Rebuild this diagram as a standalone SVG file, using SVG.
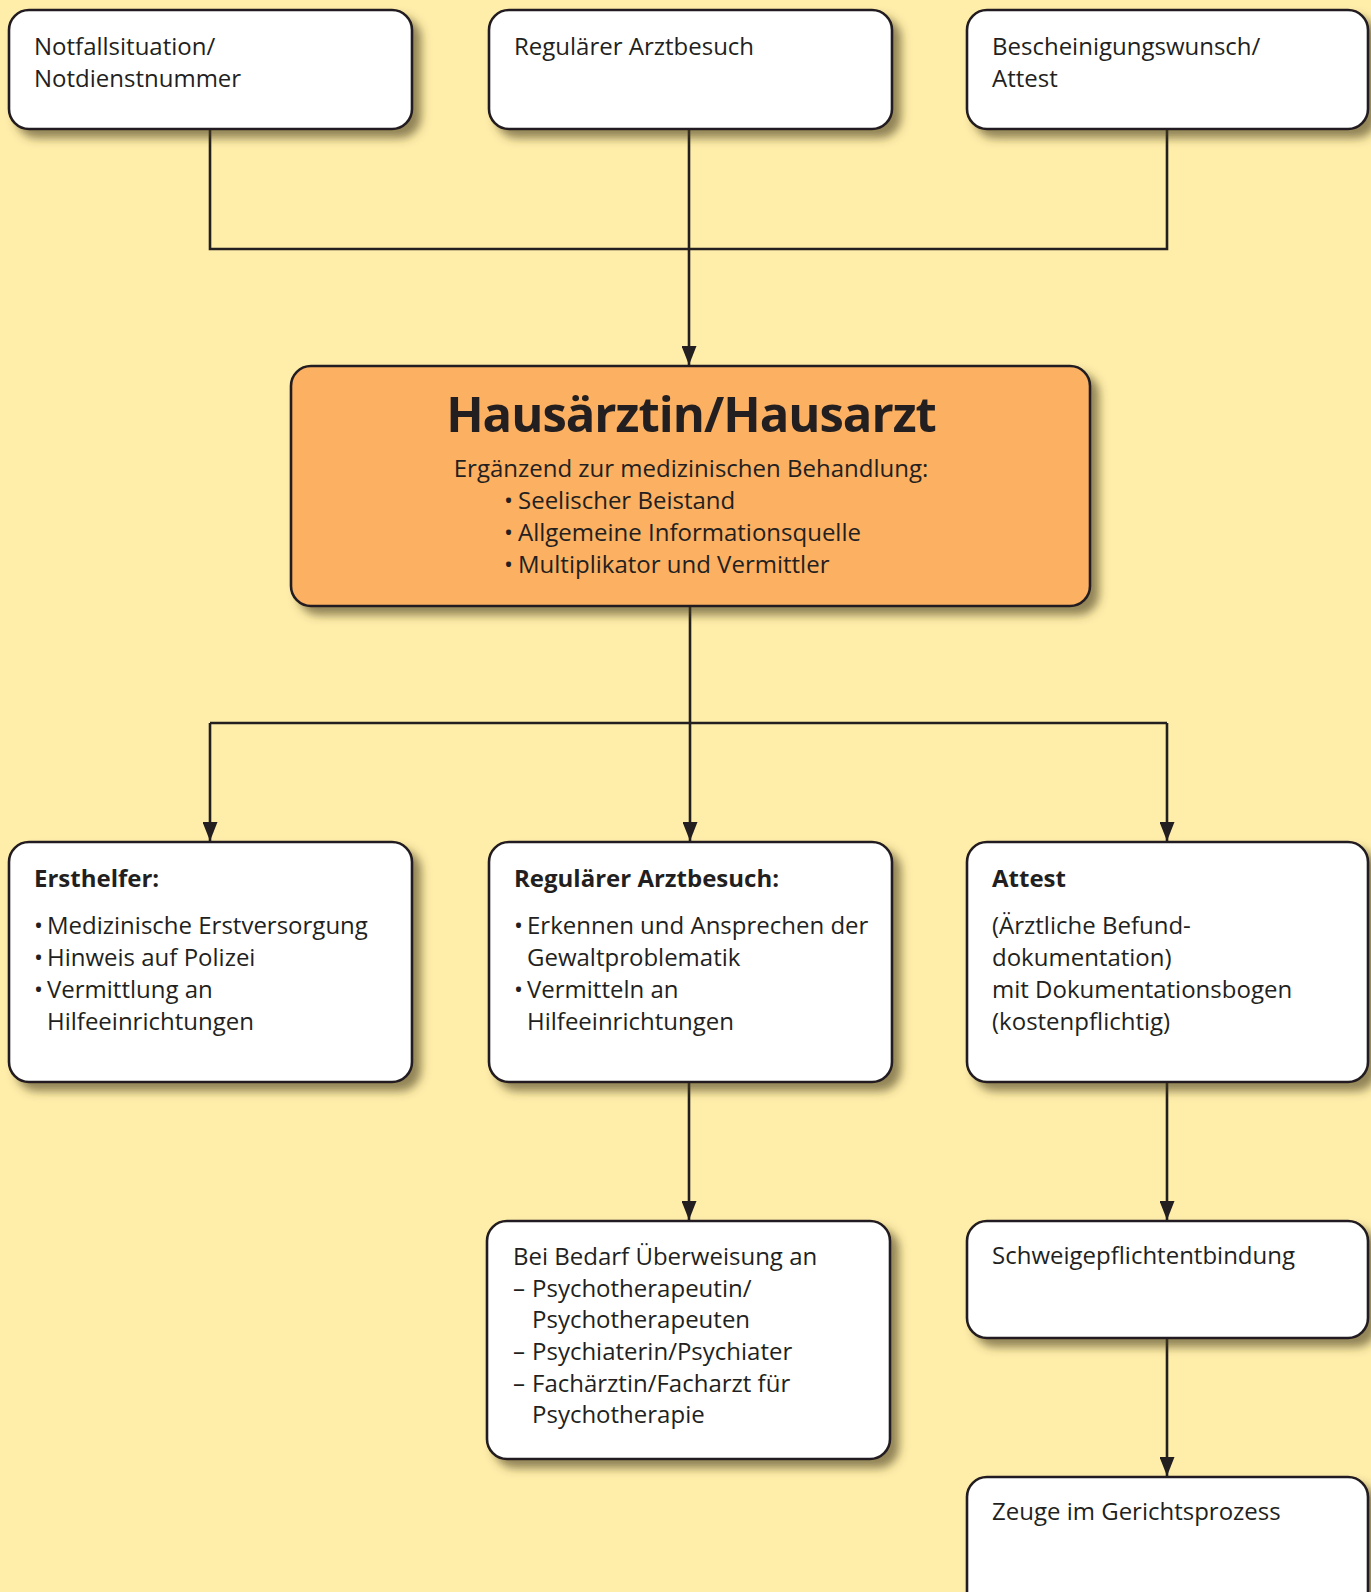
<svg xmlns="http://www.w3.org/2000/svg" width="1371" height="1592" viewBox="0 0 1371 1592">
  <defs>
    <filter id="shadow" x="-10%" y="-10%" width="130%" height="140%">
      <feDropShadow dx="8" dy="8" stdDeviation="5" flood-color="#4a3a1a" flood-opacity="0.6"/>
    </filter>
    <marker id="arrow" viewBox="0 0 19 15" refX="19" refY="7.5" markerWidth="19" markerHeight="15" markerUnits="userSpaceOnUse" orient="auto">
      <path d="M0,0 L19,7.5 L0,15 z" fill="#231f20"/>
    </marker>
    <style>
      .box { fill: #ffffff; stroke: #231f20; stroke-width: 2.6; filter: url(#shadow); }
      .hub { fill: #fbb062; stroke: #231f20; stroke-width: 2.6; filter: url(#shadow); }
      .line { fill: none; stroke: #231f20; stroke-width: 2.6; }
      .arr { marker-end: url(#arrow); }
      text { font-family: "Open Sans", "Liberation Sans", sans-serif; fill: #231f20; font-size: 24px; }
      .b { font-weight: bold; }
      .title { font-size: 49px; font-weight: bold; letter-spacing: -1px; }
    </style>
  </defs>

  <rect width="1371" height="1592" fill="#ffeeaa"/>

  <!-- connectors -->
  <g id="connectors">
    <path class="line" d="M210,129 V249 H1167 V129"/>
    <path class="line arr" d="M689,129 V365"/>
    <path class="line arr" d="M690,606 V841"/>
    <path class="line" d="M210,723 H1167"/>
    <path class="line arr" d="M210,723 V841"/>
    <path class="line arr" d="M1167,723 V841"/>
    <path class="line arr" d="M689,1082 V1220"/>
    <path class="line arr" d="M1167,1082 V1220"/>
    <path class="line arr" d="M1167,1338 V1476"/>
  </g>

  <!-- entry points -->
  <g id="notfall">
    <rect class="box" x="9" y="10" width="403" height="119" rx="20"/>
    <text x="34" y="55">Notfallsituation/</text>
    <text x="34" y="87">Notdienstnummer</text>
  </g>
  <g id="arztbesuch">
    <rect class="box" x="489" y="10" width="403" height="119" rx="20"/>
    <text x="514" y="55">Regulärer Arztbesuch</text>
  </g>
  <g id="bescheinigung">
    <rect class="box" x="967" y="10" width="401" height="119" rx="20"/>
    <text x="992" y="55">Bescheinigungswunsch/</text>
    <text x="992" y="87">Attest</text>
  </g>

  <!-- central node -->
  <g id="hausarzt">
    <rect class="hub" x="291" y="366" width="799" height="240" rx="20"/>
    <text class="title" x="691" y="432" text-anchor="middle">Hausärztin/Hausarzt</text>
    <text x="691" y="477" text-anchor="middle">Ergänzend zur medizinischen Behandlung:</text>
    <text x="504" y="509">•</text><text x="518" y="509">Seelischer Beistand</text>
    <text x="504" y="541">•</text><text x="518" y="541">Allgemeine Informationsquelle</text>
    <text x="504" y="573">•</text><text x="518" y="573">Multiplikator und Vermittler</text>
  </g>

  <!-- roles -->
  <g id="ersthelfer">
    <rect class="box" x="9" y="842" width="403" height="240" rx="20"/>
    <text class="b" x="34" y="887">Ersthelfer:</text>
    <text x="34" y="934">•</text><text x="47" y="934">Medizinische Erstversorgung</text>
    <text x="34" y="966">•</text><text x="47" y="966">Hinweis auf Polizei</text>
    <text x="34" y="998">•</text><text x="47" y="998">Vermittlung an</text>
    <text x="47" y="1030">Hilfeeinrichtungen</text>
  </g>
  <g id="regulaer">
    <rect class="box" x="489" y="842" width="403" height="240" rx="20"/>
    <text class="b" x="514" y="887">Regulärer Arztbesuch:</text>
    <text x="514" y="934">•</text><text x="527" y="934">Erkennen und Ansprechen der</text>
    <text x="527" y="966">Gewaltproblematik</text>
    <text x="514" y="998">•</text><text x="527" y="998">Vermitteln an</text>
    <text x="527" y="1030">Hilfeeinrichtungen</text>
  </g>
  <g id="attest">
    <rect class="box" x="967" y="842" width="401" height="240" rx="20"/>
    <text class="b" x="992" y="887">Attest</text>
    <text x="992" y="934">(Ärztliche Befund-</text>
    <text x="992" y="966">dokumentation)</text>
    <text x="992" y="998">mit Dokumentationsbogen</text>
    <text x="992" y="1030">(kostenpflichtig)</text>
  </g>

  <!-- follow-up steps -->
  <g id="ueberweisung">
    <rect class="box" x="487" y="1221" width="403" height="238" rx="20"/>
    <text x="513" y="1265">Bei Bedarf Überweisung an</text>
    <text x="513" y="1297">–</text><text x="532" y="1297">Psychotherapeutin/</text>
    <text x="532" y="1328">Psychotherapeuten</text>
    <text x="513" y="1360">–</text><text x="532" y="1360">Psychiaterin/Psychiater</text>
    <text x="513" y="1392">–</text><text x="532" y="1392">Fachärztin/Facharzt für</text>
    <text x="532" y="1423">Psychotherapie</text>
  </g>
  <g id="schweigepflicht">
    <rect class="box" x="967" y="1221" width="401" height="117" rx="20"/>
    <text x="992" y="1264">Schweigepflichtentbindung</text>
  </g>
  <g id="zeuge">
    <rect class="box" x="967" y="1477" width="401" height="150" rx="20"/>
    <text x="992" y="1520">Zeuge im Gerichtsprozess</text>
  </g>
</svg>
